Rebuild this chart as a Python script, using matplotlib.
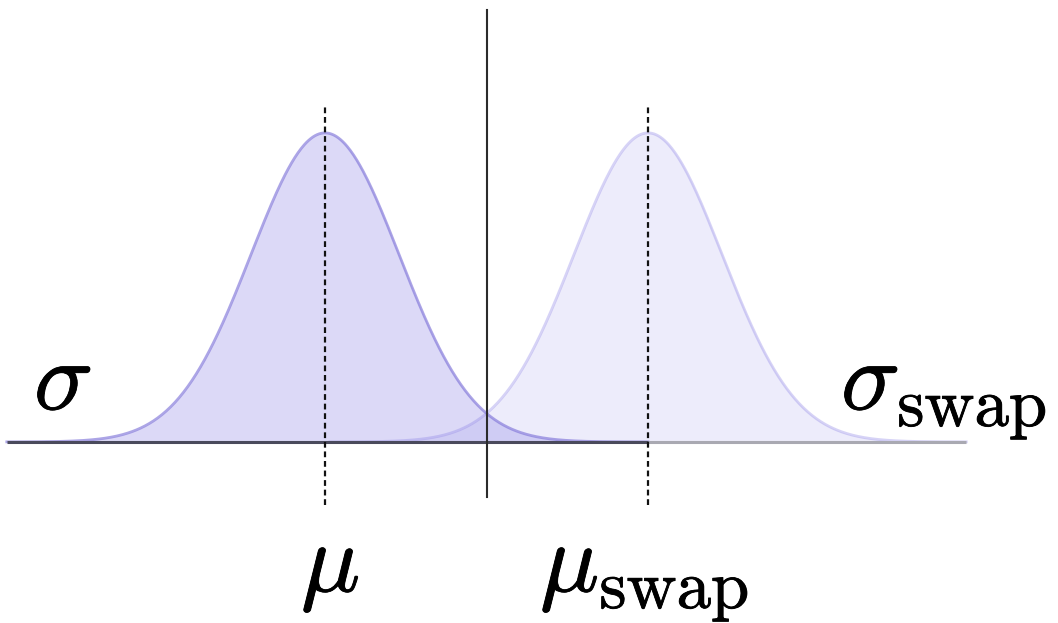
import numpy as np
import matplotlib
matplotlib.use("Agg")
import matplotlib.pyplot as plt
import matplotlib.patheffects as pe

plt.rcParams["mathtext.fontset"] = "cm"

# Distribution parameters (in units of sigma)
mu = 0.0
mu_swap = 4.365
sigma = 1.0
sigma_swap = 1.0
support = 4.30          # half-width of the drawn support, in sigmas
peak = 1.0              # curves are normalised to unit height

labels = [r"$\sigma$", r"$\sigma_{\mathrm{swap}}$", r"$\mu$", r"$\mu_{\mathrm{swap}}$"]

fig = plt.figure(figsize=(10.58, 6.23), dpi=100)
ax = fig.add_axes([0, 0, 1, 1])
ax.set_xlim(-4.392, 9.905)
ax.set_ylim(-0.586, 1.430)
ax.axis("off")


def bell(x, m, s):
    return peak * np.exp(-0.5 * ((x - m) / s) ** 2)


x_left = np.linspace(mu - support * sigma, mu_swap, 600)
x_right = np.linspace(mu_swap - support * sigma_swap, mu_swap + support * sigma_swap, 600)
y_left = bell(x_left, mu, sigma)
y_right = bell(x_right, mu_swap, sigma_swap)

# Swapped distribution (light)
ax.fill_between(x_right, 0, y_right, color=(0.55, 0.51, 0.90), alpha=0.15, lw=0, zorder=1)
ax.plot(x_right, y_right, color=(0.55, 0.51, 0.90), alpha=0.35, lw=2.0, zorder=2)

# Original distribution (darker)
ax.fill_between(x_left, 0, y_left, color=(0.55, 0.51, 0.90), alpha=0.30, lw=0, zorder=3)
ax.plot(x_left, y_left, color=(0.50, 0.46, 0.85), alpha=0.65, lw=2.0, zorder=4)

# Baselines
ax.plot([mu_swap, mu_swap + support * sigma_swap], [0, 0], color="#a9a9b2", lw=2.2,
        solid_capstyle="butt", zorder=5)
ax.plot([mu - support * sigma, mu_swap], [0, 0], color="#4a4a5c", lw=2.2,
        solid_capstyle="butt", zorder=6)

# Decision boundary halfway between the means
mid = 0.5 * (mu + mu_swap)
ax.plot([mid, mid], [-0.178, 1.398], color="#2b2b2b", lw=1.5, zorder=7)

# Mean markers
for m in (mu, mu_swap):
    ax.plot([m, m], [-0.205, 1.095], color="#111111", lw=1.6,
            linestyle=(0, (2.6, 1.7)), zorder=8)

fs = 71
heavier = [pe.withStroke(linewidth=0.6, foreground="black")]
fig.text(34 / 1058, 1 - 410 / 623, labels[0], fontsize=fs, ha="left", va="baseline",
         path_effects=heavier)
fig.text(841 / 1058, 1 - 410 / 623, labels[1], fontsize=fs, ha="left", va="baseline",
         path_effects=heavier)
fig.text(301 / 1058, 1 - 592 / 623, labels[2], fontsize=fs, ha="left", va="baseline",
         path_effects=heavier)
fig.text(540 / 1058, 1 - 592 / 623, labels[3], fontsize=fs, ha="left", va="baseline",
         path_effects=heavier)

fig.savefig("out.png", dpi=100, facecolor="white")
